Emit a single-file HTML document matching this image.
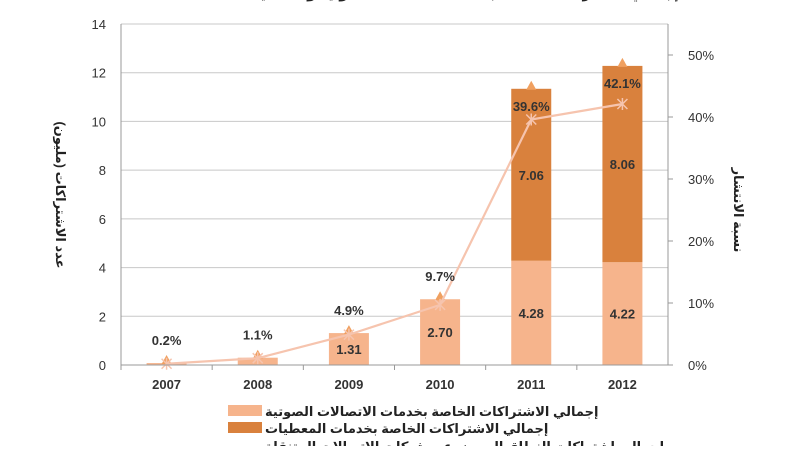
<!DOCTYPE html>
<html><head><meta charset="utf-8"><style>
body{margin:0;background:#fff;width:792px;height:446px;overflow:hidden;font-family:"Liberation Sans","Noto Sans CJK SC",sans-serif}
</style></head><body>
<svg id="c" width="792" height="446" xmlns="http://www.w3.org/2000/svg" font-family="Liberation Sans, DejaVu Sans, sans-serif">
<text x="460" y="-2" text-anchor="middle" font-size="14" font-weight="bold" fill="#222">إجمالي الاشتراكات الخاصة بخدمات الاتصالات الصوتية والمعطيات</text>
<g id="grid"></g><g id="bars"></g><g id="line"></g><g id="axes"></g>
<text transform="translate(56,195) rotate(90)" text-anchor="middle" font-size="13" font-weight="600" fill="#222">عدد الاشتراكات (مليون)</text>
<text transform="translate(734,210) rotate(90)" text-anchor="middle" font-size="13" font-weight="600" fill="#222">نسبة الانتشار</text>
<g font-size="13" font-weight="600" fill="#222">
<rect x="228" y="405" width="34" height="11" fill="#f6b48c"/>
<text x="265" y="416" >إجمالي الاشتراكات الخاصة بخدمات الاتصالات الصوتية</text>
<rect x="228" y="422" width="34" height="11" fill="#d9813d"/>
<text x="265" y="433">إجمالي الاشتراكات الخاصة بخدمات المعطيات</text>
<text x="265" y="451">إجمالي اشتراكات النطاق العريض عبر شبكات الاتصالات المتنقلة</text>
</g>
</svg>
<script>
const years=["2007","2008","2009","2010","2011","2012"];
const voice=[0.08,0.3,1.31,2.70,4.28,4.22];
const data=[0,0,0,0,7.06,8.06];
const pen=[0.2,1.1,4.9,9.7,39.6,42.1];
const voiceLabels=["","","1.31","2.70","4.28","4.22"];
const dataLabels=["","","","","7.06","8.06"];
const penLabels=["0.2%","1.1%","4.9%","9.7%","39.6%","42.1%"];
const yTicks=[0,2,4,6,8,10,12,14];
const y2Ticks=[0,10,20,30,40,50];
const NS="http://www.w3.org/2000/svg";
const L=121,R=668,T=24,B=365;
const y=v=>B-v*(B-T)/14;
const y2=p=>B-p*6.2;
const bw=(R-L)/years.length;
const x=i=>L+bw*(i+0.5);
function mk(t,a,p){const e=document.createElementNS(NS,t);for(const k in a)e.setAttribute(k,a[k]);p.appendChild(e);return e;}
const G=document.getElementById('grid'),BA=document.getElementById('bars'),LN=document.getElementById('line'),AX=document.getElementById('axes');
yTicks.forEach(v=>{
 const g=mk('line',{x1:L,x2:R,y1:y(v),y2:y(v),stroke:'#c8c8c8','stroke-width':1},G);
 
 
 const t=mk('text',{x:106,y:y(v)+5,'text-anchor':'end','font-size':13,fill:'#333'},AX);t.textContent=v;
 
 
});
y2Ticks.forEach(p=>{
 mk('line',{x1:R,x2:R+5,y1:y2(p),y2:y2(p),stroke:'#999'},AX);
 const t=mk('text',{x:688,y:y2(p)+5,'font-size':13,fill:'#333'},AX);t.textContent=p+'%';
 
 
});
mk('line',{x1:L,x2:L,y1:T,y2:B,stroke:'#999'},AX);
mk('line',{x1:R,x2:R,y1:T,y2:B,stroke:'#999'},AX);
mk('line',{x1:L,x2:R,y1:B,y2:B,stroke:'#999'},AX);
years.forEach((yr,i)=>{
 mk('line',{x1:L+bw*i,x2:L+bw*i,y1:B,y2:B+5,stroke:'#999'},AX);
 const t=mk('text',{x:x(i),y:389,'text-anchor':'middle','font-size':13,'font-weight':'bold',fill:'#333'},AX);t.textContent=yr;
 
 
 const bx=x(i)-20;
 const r1=mk('rect',{x:bx,y:y(voice[i]),width:40,height:B-y(voice[i]),fill:'#f6b48c'},BA);
 
 
 if(data[i]>0){
  const r2=mk('rect',{x:bx,y:y(voice[i]+data[i]),width:40,height:y(voice[i])-y(voice[i]+data[i]),fill:'#d9813d'},BA);
  
  
 }
 if(voiceLabels[i]){const t2=mk('text',{x:x(i),y:(y(voice[i])+B)/2+5,'text-anchor':'middle','font-size':13,'font-weight':'bold',fill:'#333'},BA);t2.textContent=voiceLabels[i];
  
  }
 if(dataLabels[i]){const t3=mk('text',{x:x(i),y:(y(voice[i])+y(voice[i]+data[i]))/2+5,'text-anchor':'middle','font-size':13,'font-weight':'bold',fill:'#333'},BA);t3.textContent=dataLabels[i];
  
  }
 const tot=voice[i]+data[i];
 const tri=mk('path',{d:`M${x(i)-5},${y(tot)+1}L${x(i)+5},${y(tot)+1}L${x(i)},${y(tot)-8}Z`,fill:'#f0a060'},LN);
 
 
});
let d='';pen.forEach((p,i)=>{d+=(i?'L':'M')+x(i)+','+y2(p);});
const pl=mk('path',{d:d,fill:'none',stroke:'#f6c4ae','stroke-width':2.2},LN);


pen.forEach((p,i)=>{
 const cx=x(i),cy=y2(p);
 const m=mk('path',{d:`M${cx-5},${cy-5}L${cx+5},${cy+5}M${cx-5},${cy+5}L${cx+5},${cy-5}M${cx},${cy-6}L${cx},${cy+6}`,stroke:'#f6c4ae','stroke-width':1.5},LN);
 
 
 const tot=voice[i]+data[i];
 const ly=i>=4?y(tot)+22:Math.min(y2(p),y(tot))-18;
 const t=mk('text',{x:cx,y:ly,'text-anchor':'middle','font-size':13,'font-weight':'bold',fill:'#333'},LN);t.textContent=penLabels[i];
 
 
});
</script>
</body></html>
